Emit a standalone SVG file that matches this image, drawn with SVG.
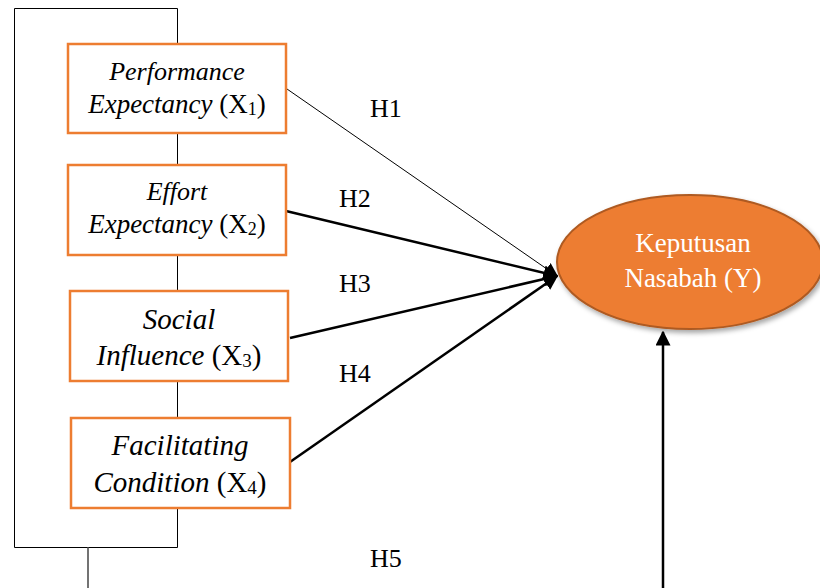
<svg xmlns="http://www.w3.org/2000/svg" width="820" height="588" viewBox="0 0 820 588">
<style>
.box{fill:#fff;stroke:#ED7D31;stroke-width:2.5}
.lbl{font-family:"Liberation Serif","Times New Roman",serif;fill:#000;text-anchor:middle}
.it{font-style:italic}
.h{font-family:"Liberation Serif","Times New Roman",serif;font-size:26px;fill:#000}
.br{fill:none;stroke:#000;stroke-width:1}
.ar{fill:none;stroke:#000;stroke-width:2.5}
</style>
<defs>
<marker id="ah" viewBox="0 0 10 10" refX="9" refY="5" markerWidth="6" markerHeight="6" markerUnits="strokeWidth" orient="auto">
<path d="M0,0 L10,5 L0,10 z" fill="#000"/>
</marker>
<marker id="ah1" viewBox="0 0 10 10" refX="9" refY="5" markerWidth="14" markerHeight="14" markerUnits="strokeWidth" orient="auto">
<path d="M0,0 L10,5 L0,10 z" fill="#000"/>
</marker>
<filter id="sh" x="-10%" y="-10%" width="130%" height="140%">
<feDropShadow dx="2" dy="3" stdDeviation="2.5" flood-color="#000" flood-opacity="0.35"/>
</filter>
</defs>
<g id="connectors">
<path class="br" d="M177.5,44 V8.5 H14.5 V547.5 H177.5 V508"/>
<line class="br" x1="177.5" y1="133" x2="177.5" y2="165"/>
<line class="br" x1="177.5" y1="255" x2="177.5" y2="291"/>
<line class="br" x1="177.5" y1="381" x2="177.5" y2="418"/>
<line x1="88" y1="547" x2="88" y2="588" stroke="#444" stroke-width="1.5"/>
<line x1="287" y1="89" x2="557" y2="276" stroke="#000" stroke-width="1" marker-end="url(#ah1)"/>
<line class="ar" x1="286" y1="211" x2="557" y2="276" marker-end="url(#ah)"/>
<line class="ar" x1="290" y1="338" x2="557" y2="276" marker-end="url(#ah)"/>
<line class="ar" x1="290" y1="462" x2="557" y2="276" marker-end="url(#ah)"/>
<line class="ar" x1="663" y1="588" x2="663" y2="332" marker-end="url(#ah)"/>
<text class="h" x="370" y="117">H1</text>
<text class="h" x="339" y="207">H2</text>
<text class="h" x="339" y="292">H3</text>
<text class="h" x="339" y="382">H4</text>
<text class="h" x="370" y="567">H5</text>
</g>
<g id="x1">
<rect class="box" x="68" y="44" width="218" height="89"/>
<text class="lbl it" x="177" y="80" font-size="26">Performance</text>
<text class="lbl" x="177" y="113" font-size="27"><tspan class="it">Expectancy</tspan> (X<tspan font-size="18" dy="2">1</tspan><tspan dy="-2">)</tspan></text>
</g>
<g id="x2">
<rect class="box" x="68" y="165" width="218" height="90"/>
<text class="lbl it" x="177" y="200" font-size="26">Effort</text>
<text class="lbl" x="177" y="233" font-size="27"><tspan class="it">Expectancy</tspan> (X<tspan font-size="18" dy="2">2</tspan><tspan dy="-2">)</tspan></text>
</g>
<g id="x3">
<rect class="box" x="70" y="291" width="218" height="90"/>
<text class="lbl it" x="179" y="329" font-size="29">Social</text>
<text class="lbl" x="179" y="365" font-size="29"><tspan class="it">Influence</tspan> (X<tspan font-size="19" dy="2">3</tspan><tspan dy="-2">)</tspan></text>
</g>
<g id="x4">
<rect class="box" x="71" y="418" width="219" height="90"/>
<text class="lbl it" x="180" y="455" font-size="29">Facilitating</text>
<text class="lbl" x="180" y="492" font-size="29"><tspan class="it">Condition</tspan> (X<tspan font-size="19" dy="2">4</tspan><tspan dy="-2">)</tspan></text>
</g>
<g id="y">
<ellipse cx="690" cy="262" rx="133" ry="67" fill="#ED7D31" stroke="#AE5A21" stroke-width="2" filter="url(#sh)"/>
<text class="lbl" x="693" y="252" font-size="27" style="fill:#fff">Keputusan</text>
<text class="lbl" x="693" y="287" font-size="27" style="fill:#fff">Nasabah (Y)</text>
</g>
</svg>
